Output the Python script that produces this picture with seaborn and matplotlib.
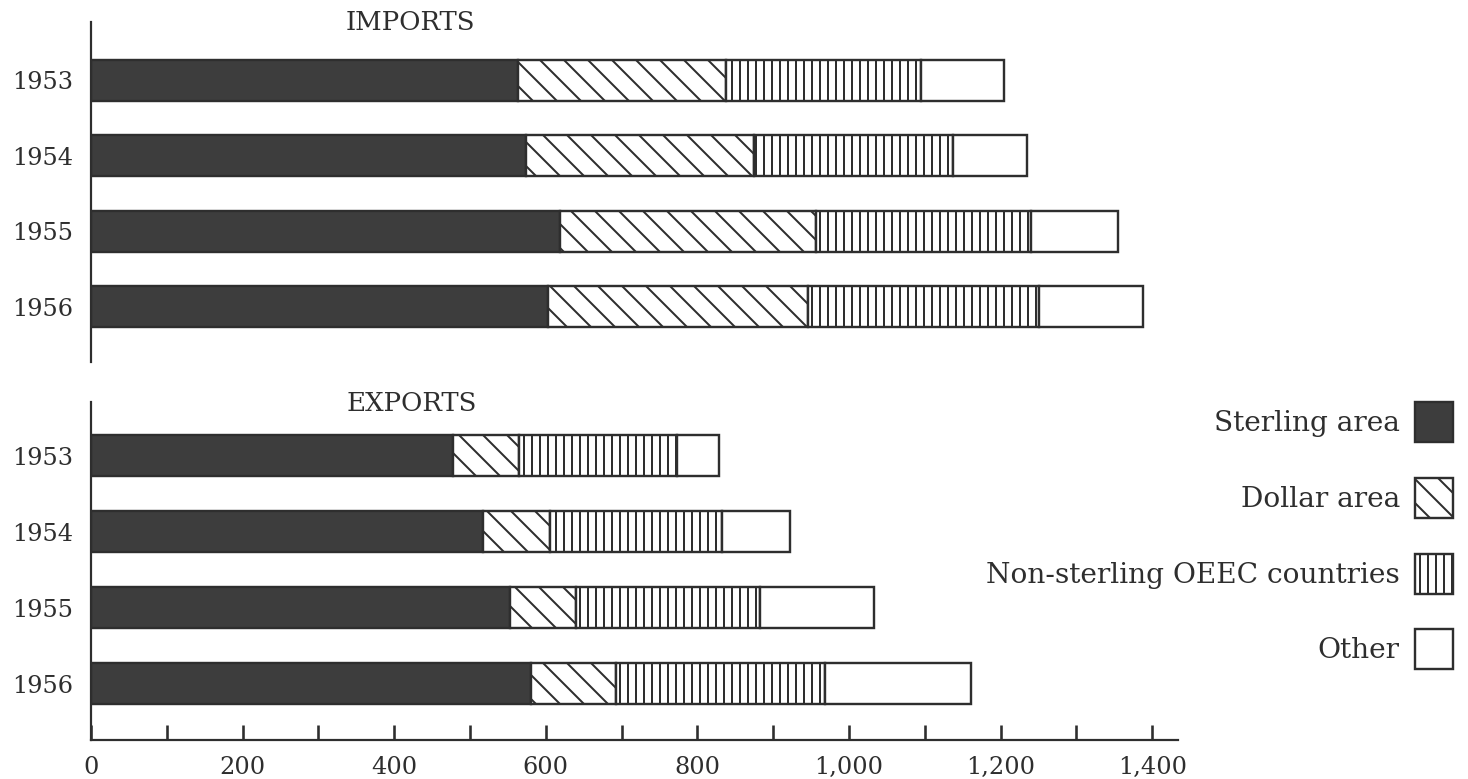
import numpy as np
import pandas as pd
import matplotlib
matplotlib.use('Agg')
import matplotlib.pyplot as plt
from matplotlib.patches import Patch
from matplotlib.ticker import MultipleLocator
import seaborn as sns

# values (£ million), one list per area
years = ['1953', '1954', '1955', '1956']
areas = ['Sterling area', 'Dollar area', 'Non-sterling OEEC countries', 'Other']

imp_sterling = [563, 574, 619, 603]
imp_dollar = [274, 301, 338, 343]
imp_oeec = [258, 262, 283, 305]
imp_other = [110, 98, 115, 137]

exp_sterling = [478, 517, 553, 581]
exp_dollar = [87, 88, 87, 111]
exp_oeec = [208, 227, 242, 276]
exp_other = [55, 90, 151, 193]

x_ticks = [0, 200, 400, 600, 800, 1000, 1200, 1400]
x_tick_labels = ['0', '200', '400', '600', '800', '1,000', '1,200', '1,400']

sns.set_style('white')
plt.rcParams['font.family'] = ['DejaVu Serif']
plt.rcParams['hatch.linewidth'] = 1.0

INK = '#2e2e2e'
fills = ['#3d3d3d', 'white', 'white', 'white']
hatches = ['', '\\\\', '|||', '']

DPI = 144
fig = plt.figure(figsize=(1468 / DPI, 779 / DPI), dpi=DPI)
ax_imp = fig.add_axes([0.062, 0.5353, 0.7405, 0.4365])
ax_exp = fig.add_axes([0.062, 0.050, 0.7405, 0.434])


def stacked(ax, parts):
    left = np.zeros(len(years))
    for vals, fc, h in zip(parts, fills, hatches):
        df = pd.DataFrame({'year': years, 'value': vals})
        sns.barplot(data=df, x='value', y='year', orient='y', ax=ax,
                    color=fc, saturation=1, errorbar=None, width=0.54,
                    left=left.copy(), hatch=h, edgecolor=INK, linewidth=1.2)
        left += np.array(vals)


stacked(ax_imp, [imp_sterling, imp_dollar, imp_oeec, imp_other])
stacked(ax_exp, [exp_sterling, exp_dollar, exp_oeec, exp_other])

for ax in (ax_imp, ax_exp):
    ax.set_xlim(0, 1434)
    ax.set_xlabel('')
    ax.set_ylabel('')
    ax.tick_params(axis='y', length=0, pad=9, labelsize=12, labelcolor=INK)
    ax.spines['top'].set_visible(False)
    ax.spines['right'].set_visible(False)
    ax.spines['left'].set_color(INK)
    ax.spines['left'].set_linewidth(1.1)

ax_imp.set_ylim(3.73, -0.77)
ax_exp.set_ylim(3.74, -0.71)

ax_imp.spines['bottom'].set_visible(False)
ax_imp.set_xticks([])

ax_exp.spines['bottom'].set_color(INK)
ax_exp.spines['bottom'].set_linewidth(1.1)
ax_exp.set_xticks(x_ticks, x_tick_labels)
ax_exp.xaxis.set_minor_locator(MultipleLocator(100))
ax_exp.tick_params(axis='x', which='both', bottom=True, direction='in', length=7.5,
                   width=1.3, color=INK, pad=8, labelsize=12, labelcolor=INK)

fig.text(410 / 1468, 1 - 22 / 779, 'IMPORTS', ha='center', va='center', fontsize=13, color=INK)
fig.text(412 / 1468, 1 - 404 / 779, 'EXPORTS', ha='center', va='center', fontsize=13, color=INK)

handles = [Patch(facecolor=fc, edgecolor=INK, hatch=h, linewidth=1.2) for fc, h in zip(fills, hatches)]
leg = fig.legend(handles, areas, loc='upper right', bbox_to_anchor=(1453 / 1468, 1 - 402 / 779),
                 frameon=False, markerfirst=False, fontsize=14, handlelength=1.36,
                 handleheight=1.82, handletextpad=0.54, labelspacing=1.28,
                 borderpad=0, borderaxespad=0)
for t in leg.get_texts():
    t.set_color(INK)

fig.savefig('out.png', dpi=DPI)
